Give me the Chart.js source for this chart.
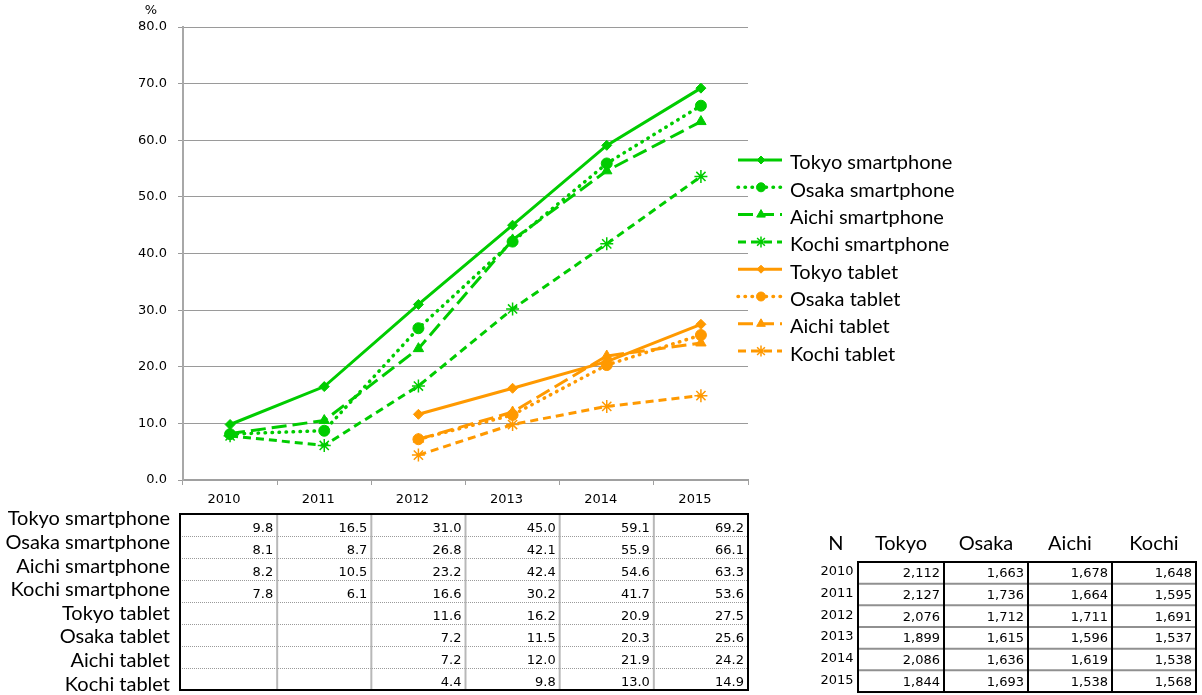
<!DOCTYPE html>
<html>
<head>
<meta charset="utf-8">
<script src="https://cdn.jsdelivr.net/npm/chart.js@4/dist/chart.umd.min.js"></script>
<style>
  body { margin: 0; background: #fff; }
  canvas { display: block; }
</style>
</head>
<body>
<canvas id="chart" width="1202" height="695"></canvas>
<script>
// year labels
const years = ['2010', '2011', '2012', '2013', '2014', '2015'];

// share (%) by prefecture
const tokyoSmartphone = [9.8, 16.5, 31.0, 45.0, 59.1, 69.2];
const osakaSmartphone = [8.1, 8.7, 26.8, 42.1, 55.9, 66.1];
const aichiSmartphone = [8.2, 10.5, 23.2, 42.4, 54.6, 63.3];
const kochiSmartphone = [7.8, 6.1, 16.6, 30.2, 41.7, 53.6];
const tokyoTablet = [null, null, 11.6, 16.2, 20.9, 27.5];
const osakaTablet = [null, null, 7.2, 11.5, 20.3, 25.6];
const aichiTablet = [null, null, 7.2, 12.0, 21.9, 24.2];
const kochiTablet = [null, null, 4.4, 9.8, 13.0, 14.9];

// sample sizes
const nHeaders = ['Tokyo', 'Osaka', 'Aichi', 'Kochi'];
const nTokyo = [2112, 2127, 2076, 1899, 2086, 1844];
const nOsaka = [1663, 1736, 1712, 1615, 1636, 1693];
const nAichi = [1678, 1664, 1711, 1596, 1619, 1538];
const nKochi = [1648, 1595, 1691, 1537, 1538, 1568];

const GREEN = '#00cc00';
const ORANGE = '#ff9900';
const LABEL_FONT = '20px Lato';
const NUM_FONT = '13px "DejaVu Sans"';

// line style per prefecture
const styles = {
    Tokyo: { dash: [], cap: 'butt', point: 'rectRot', radius: 5, width: 3 },
    Osaka: { dash: [0.5, 6.5], cap: 'round', point: 'circle', radius: 5.5, width: 3.5 },
    Aichi: { dash: [15, 6], cap: 'butt', point: 'triangle', radius: 6, width: 3 },
    Kochi: { dash: [8, 5], cap: 'butt', point: 'star', radius: 6.5, width: 3 },
};

function makeSet(label, data, pref, color) {
    const s = styles[pref];
    return {
        label: label,
        data: data,
        borderColor: color,
        backgroundColor: color,
        borderWidth: s.width,
        borderDash: s.dash,
        borderCapStyle: s.cap,
        pointStyle: s.point,
        pointRadius: s.radius,
        pointBackgroundColor: color,
        pointBorderColor: color,
        pointBorderWidth: s.point === 'star' ? 1.5 : 1,
        tension: 0,
        spanGaps: false,
    };
}

const datasets = [
    makeSet('Tokyo smartphone', tokyoSmartphone, 'Tokyo', GREEN),
    makeSet('Osaka smartphone', osakaSmartphone, 'Osaka', GREEN),
    makeSet('Aichi smartphone', aichiSmartphone, 'Aichi', GREEN),
    makeSet('Kochi smartphone', kochiSmartphone, 'Kochi', GREEN),
    makeSet('Tokyo tablet', tokyoTablet, 'Tokyo', ORANGE),
    makeSet('Osaka tablet', osakaTablet, 'Osaka', ORANGE),
    makeSet('Aichi tablet', aichiTablet, 'Aichi', ORANGE),
    makeSet('Kochi tablet', kochiTablet, 'Kochi', ORANGE),
];

// legend, data table and N table drawn on the same canvas
const extras = {
    id: 'extras',
    afterDraw(chart) {
        const ctx = chart.ctx;
        const xs = chart.scales.x;
        const area = chart.chartArea;
        const half = (xs.getPixelForValue(1) - xs.getPixelForValue(0)) / 2;

        ctx.save();

        // % unit
        ctx.fillStyle = '#000';
        ctx.font = '13px "DejaVu Sans"';
        ctx.textAlign = 'center';
        ctx.textBaseline = 'middle';
        ctx.fillText('%', 151, 11);

        // year labels under axis
        ctx.font = '13px "DejaVu Sans"';
        years.forEach((y, i) => {
            ctx.fillText(y, xs.getPixelForValue(i) - 6, 500);
        });

        // legend
        chart.data.datasets.forEach((ds, i) => {
            const y = 160 + i * 27.3;
            ctx.strokeStyle = ds.borderColor;
            ctx.fillStyle = ds.borderColor;
            ctx.lineWidth = ds.borderWidth;
            ctx.lineCap = ds.borderCapStyle;
            ctx.setLineDash(ds.borderDash);
            ctx.beginPath();
            ctx.moveTo(738, y);
            ctx.lineTo(782, y);
            ctx.stroke();
            ctx.setLineDash([]);
            ctx.lineCap = 'butt';
            ctx.lineWidth = ds.pointBorderWidth;
            Chart.helpers.drawPoint(ctx, {
                pointStyle: ds.pointStyle,
                radius: ds.pointRadius - 1,
                borderWidth: ds.pointBorderWidth,
                rotation: 0,
            }, 761, y);
            ctx.fillStyle = '#000';
            ctx.font = LABEL_FONT;
            ctx.textAlign = 'left';
            ctx.textBaseline = 'middle';
            ctx.fillText(ds.label, 790, y + 3);
        });

        // data table
        const top = 514, rowH = 22;
        const rows = chart.data.datasets;
        const left = area.left - 3, right = area.right;
        const bottom = top + rows.length * rowH;

        // row labels
        ctx.fillStyle = '#000';
        ctx.font = LABEL_FONT;
        ctx.textAlign = 'right';
        ctx.textBaseline = 'middle';
        rows.forEach((ds, r) => {
            ctx.fillText(ds.label, 170, 519 + r * 23.6);
        });

        // horizontal dotted lines
        ctx.strokeStyle = '#9a9a9a';
        ctx.lineWidth = 1;
        ctx.setLineDash([1, 1]);
        for (let r = 1; r < rows.length; r++) {
            ctx.beginPath();
            ctx.moveTo(left, top + r * rowH + 0.5);
            ctx.lineTo(right, top + r * rowH + 0.5);
            ctx.stroke();
        }
        ctx.setLineDash([]);
        // vertical separators
        ctx.strokeStyle = '#b8b8b8';
        ctx.lineWidth = 2;
        for (let i = 0; i < years.length - 1; i++) {
            const x = xs.getPixelForValue(i) + half;
            ctx.beginPath();
            ctx.moveTo(x, top);
            ctx.lineTo(x, bottom);
            ctx.stroke();
        }
        // outer border
        ctx.strokeStyle = '#000';
        ctx.lineWidth = 2;
        ctx.strokeRect(left, top, right - left, bottom - top);

        // values
        ctx.font = NUM_FONT;
        ctx.textAlign = 'right';
        ctx.textBaseline = 'alphabetic';
        rows.forEach((ds, r) => {
            ds.data.forEach((v, i) => {
                if (v === null) return;
                const x = xs.getPixelForValue(i) + half - 4;
                ctx.fillText(v.toFixed(1), x, top + (r + 1) * rowH - 4);
            });
        });

        // N table
        const nCols = [nTokyo, nOsaka, nAichi, nKochi];
        const nEdges = [858, 944, 1028, 1112, 1196];
        const nTop = 562, nRowH = 21.67;
        const nBottom = nTop + years.length * nRowH;

        ctx.font = LABEL_FONT;
        ctx.textAlign = 'center';
        ctx.textBaseline = 'middle';
        ctx.fillText('N', 836, 544);
        nHeaders.forEach((h, c) => {
            ctx.fillText(h, (nEdges[c] + nEdges[c + 1]) / 2, 544);
        });

        ctx.strokeStyle = '#909090';
        ctx.lineWidth = 2;
        for (let r = 1; r < years.length; r++) {
            ctx.beginPath();
            ctx.moveTo(nEdges[0], nTop + r * nRowH);
            ctx.lineTo(nEdges[4], nTop + r * nRowH);
            ctx.stroke();
        }
        ctx.strokeStyle = '#000';
        ctx.lineWidth = 2;
        for (let c = 1; c < nEdges.length - 1; c++) {
            ctx.beginPath();
            ctx.moveTo(nEdges[c], nTop);
            ctx.lineTo(nEdges[c], nBottom);
            ctx.stroke();
        }
        ctx.strokeRect(nEdges[0], nTop, nEdges[4] - nEdges[0], nBottom - nTop);

        ctx.font = NUM_FONT;
        years.forEach((y, r) => {
            const cy = nTop + r * nRowH + nRowH / 2;
            ctx.textAlign = 'center';
            ctx.fillText(y, 837, cy - 1);
            ctx.textAlign = 'right';
            nCols.forEach((col, c) => {
                ctx.fillText(col[r].toLocaleString('en-US'), nEdges[c + 1] - 4, cy + 1);
            });
        });

        ctx.restore();
    },
};

new Chart(document.getElementById('chart'), {
    type: 'line',
    data: { labels: years, datasets: datasets },
    options: {
        responsive: false,
        animation: false,
        layout: { padding: { left: 0, top: 27, right: 454, bottom: 215 } },
        plugins: { legend: { display: false }, tooltip: { enabled: false } },
        scales: {
            x: {
                offset: true,
                grid: { offset: true, drawOnChartArea: false, drawTicks: true, tickLength: 5, color: '#a0a0a0' },
                border: { color: '#a0a0a0', width: 2 },
                ticks: { display: false },
                afterFit: (s) => { s.height = 0; },
            },
            y: {
                min: 0,
                max: 80,
                ticks: {
                    stepSize: 10,
                    padding: 11,
                    color: '#000',
                    font: { family: 'DejaVu Sans', size: 13 },
                    callback: (v) => v.toFixed(1),
                },
                grid: { color: '#9a9a9a', lineWidth: 1, tickLength: 5 },
                border: { color: '#a8a8a8', width: 2 },
                afterFit: (s) => { s.width = 183; },
            },
        },
    },
    plugins: [extras],
});
</script>
</body>
</html>
